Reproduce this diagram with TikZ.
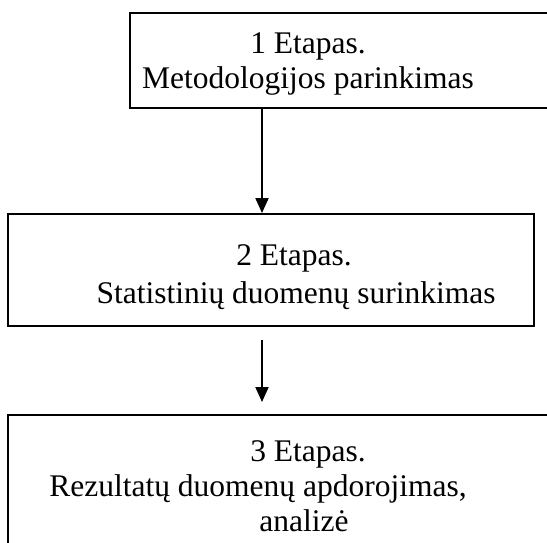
\documentclass[tikz,border=0pt]{standalone}
\usepackage{fontspec}
\setmainfont{Liberation Serif}
\usetikzlibrary{arrows.meta,calc}
\tikzstyle{stage box}=[draw,line width=2pt,inner sep=0pt]
\tikzstyle{stage text}=[anchor=base,inner sep=0pt,font=\fontsize{31.5}{37}\selectfont]
\tikzstyle{flow}=[draw,line width=2pt,-{Triangle[width=13pt,length=15pt]}]

\begin{document}
\begin{tikzpicture}[x=1pt,y=-1pt]
    \useasboundingbox (0,0) rectangle (547,542);
    % First we draw the boxes
    \foreach \pos/\name/\w/\h in {{(345,60.5)/etap1/430/95}, {(271,270)/etap2/526/112}, {(284,487.5)/etap3/552/145}}
        \node[stage box, minimum width=\w pt, minimum height=\h pt] (\name) at \pos {};

    % Then the lines of text
    \foreach \pos/\name/\txt in {{(308,53)/tx1a/{1 Etapas.}}, {(308,88)/tx1b/{Metodologijos parinkimas}},
        {(294,265)/tx2a/{2 Etapas.}}, {(296,303)/tx2b/{Statistinių duomenų surinkimas}},
        {(308,461)/tx3a/{3 Etapas.}}, {(258,496)/tx3b/{Rezultatų duomenų apdorojimas,}}, {(304,531)/tx3c/{analizė}}}
        \node[stage text] (\name) at \pos {\txt};

    % Connect boxes with arrows
    \coordinate (ax) at (262,0);
    \path[flow] (etap1.south -| ax) -- (etap2.north -| ax);
    \path[flow] ($(etap2.south -| ax)+(0,13)$) -- ($(etap3.north -| ax)+(0,-12)$);
\end{tikzpicture}
\end{document}
